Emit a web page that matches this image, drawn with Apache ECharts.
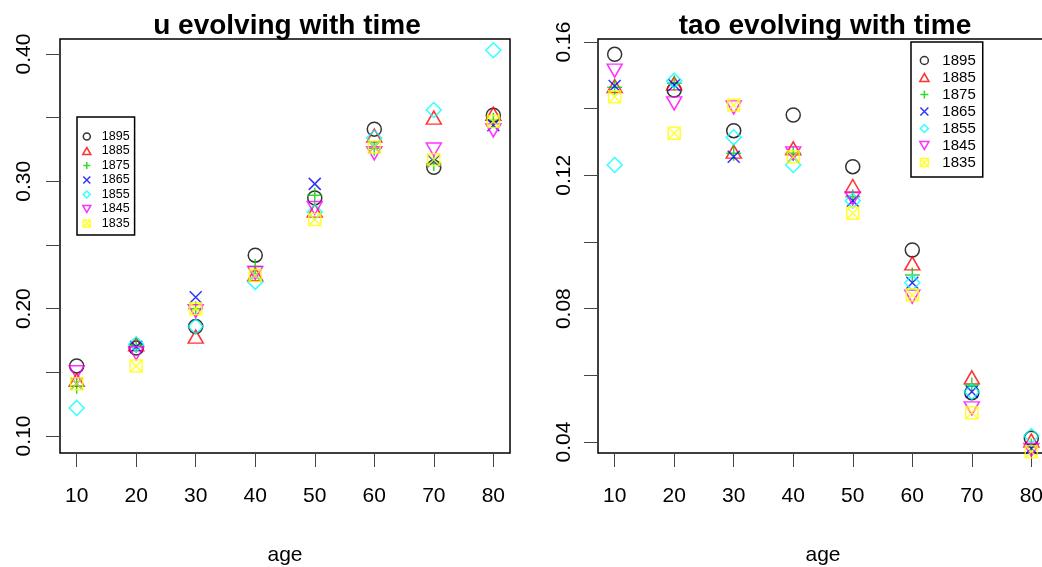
<!DOCTYPE html>
<html><head><meta charset="utf-8">
<script src="https://cdn.jsdelivr.net/npm/echarts@6/dist/echarts.min.js"></script>
<style>html,body{margin:0;padding:0;background:#fff}#c{width:1042px;height:567px}</style>
</head><body><div id="c"></div>
<script>
// ---- data ----
const ages = [10, 20, 30, 40, 50, 60, 70, 80];
const cohorts = ['1895', '1885', '1875', '1865', '1855', '1845', '1835'];

const u1895 = [0.155, 0.169, 0.186, 0.242, 0.287, 0.341, 0.311, 0.352];
const u1885 = [0.144, 0.172, 0.178, 0.227, 0.277, 0.336, 0.350, 0.353];
const u1875 = [0.139, 0.171, 0.200, 0.233, 0.289, 0.326, 0.314, 0.348];
const u1865 = [0.141, 0.170, 0.209, 0.226, 0.298, 0.327, 0.316, 0.344];
const u1855 = [0.122, 0.172, 0.186, 0.221, 0.276, 0.334, 0.356, 0.403];
const u1845 = [0.150, 0.165, 0.198, 0.228, 0.279, 0.322, 0.325, 0.340];
const u1835 = [0.141, 0.155, 0.200, 0.226, 0.270, 0.327, 0.317, 0.347];

const tao1895 = [0.1563, 0.1456, 0.1334, 0.1381, 0.1226, 0.0976, 0.0548, 0.0411];
const tao1885 = [0.1468, 0.1476, 0.1271, 0.1281, 0.1168, 0.0936, 0.0594, 0.0404];
const tao1875 = [0.1464, 0.1476, 0.1266, 0.1266, 0.1136, 0.0901, 0.0571, 0.0388];
const tao1865 = [0.1468, 0.1471, 0.1256, 0.1256, 0.1124, 0.0878, 0.0551, 0.0381];
const tao1855 = [0.1231, 0.1484, 0.1314, 0.1231, 0.1124, 0.0878, 0.0551, 0.0418];
const tao1845 = [0.1514, 0.1416, 0.1404, 0.1266, 0.1131, 0.0836, 0.0501, 0.0376];
const tao1835 = [0.1436, 0.1326, 0.1411, 0.1256, 0.1086, 0.0841, 0.0488, 0.0371];

const xTicks = [10, 20, 30, 40, 50, 60, 70, 80];
const uTicks = [0.10, 0.15, 0.20, 0.25, 0.30, 0.35, 0.40];
const uLabels = [0.10, 0.20, 0.30, 0.40];
const taoTicks = [0.04, 0.06, 0.08, 0.10, 0.12, 0.14, 0.16];
const taoLabels = [0.04, 0.08, 0.12, 0.16];

const uSeries = [u1895, u1885, u1875, u1865, u1855, u1845, u1835];
const taoSeries = [tao1895, tao1885, tao1875, tao1865, tao1855, tao1845, tao1835];

// ---- styles ----
const colors = ['#000000', '#FF0000', '#00CD00', '#0000FF', '#00FFFF', '#FF00FF', '#FFFF00'];
const symbols = [
  'circle',
  'path://M5,0L10,8.66L0,8.66Z',
  'path://M5,0L5,10M0,5L10,5',
  'path://M0,0L10,10M10,0L0,10',
  'path://M5,0L10,5L5,10L0,5Z',
  'path://M0,0L10,0L5,8.66Z',
  'path://M0,0L10,0L10,10L0,10ZM0,0L10,10M10,0L0,10'
];
const sizes = [14, [15, 13], 15, 12, 15, [15, 13], 12];
const FONT = "'Liberation Sans', Arial, Helvetica, sans-serif";

function makeX(gi) {
  return {
    type: 'value', gridIndex: gi, min: 7.2, max: 82.8,
    name: 'age', nameLocation: 'middle', nameGap: 92,
    nameTextStyle: { fontFamily: FONT, fontSize: 21, color: '#000' },
    axisLine: { show: false },
    splitLine: { show: false },
    axisTick: { show: true, inside: false, length: 14, customValues: xTicks, lineStyle: { color: '#444', width: 1 } },
    axisLabel: { customValues: xTicks, margin: 33, fontFamily: FONT, fontSize: 21, color: '#000' }
  };
}
function makeY(gi, min, max, ticks, labels, margin) {
  return {
    type: 'value', gridIndex: gi, min: min, max: max,
    axisLine: { show: false },
    splitLine: { show: false },
    axisTick: { show: true, inside: false, length: 14, customValues: ticks, lineStyle: { color: '#444', width: 1 } },
    axisLabel: { customValues: labels, rotate: 90, margin: margin, fontFamily: FONT, fontSize: 21, color: '#000',
      formatter: v => v.toFixed(2) }
  };
}

const series = [];
cohorts.forEach((name, i) => {
  [uSeries[i], taoSeries[i]].forEach((vals, gi) => {
    series.push({
      type: 'scatter', name: name, xAxisIndex: gi, yAxisIndex: gi,
      symbol: symbols[i], symbolSize: sizes[i],
      itemStyle: { color: 'rgba(0,0,0,0)', borderColor: colors[i], borderWidth: 1.5 },
      emphasis: { disabled: true },
      data: ages.map((a, k) => [a, vals[k]])
    });
  });
});

function makeLegend(left, top, pad, iw, ih, gap, fs) {
  return {
    orient: 'vertical', left: left, top: top, padding: pad,
    itemWidth: iw, itemHeight: ih, itemGap: gap,
    borderColor: '#000', borderWidth: 1.5, backgroundColor: '#fff',
    selectedMode: false,
    itemStyle: { borderWidth: 1.5 },
    textStyle: { fontFamily: FONT, fontSize: fs, color: '#000' },
    data: cohorts.map((n, i) => ({ name: n, icon: symbols[i] }))
  };
}

const option = {
  animation: false,
  backgroundColor: '#fff',
  title: [
    { text: 'u evolving with time', left: 287, top: 12, padding: 0, textAlign: 'center', textVerticalAlign: 'top',
      textStyle: { fontFamily: FONT, fontWeight: 'bold', fontSize: 28, color: '#000' } },
    { text: 'tao evolving with time', left: 825, top: 12, padding: 0, textAlign: 'center', textVerticalAlign: 'top',
      textStyle: { fontFamily: FONT, fontWeight: 'bold', fontSize: 28, color: '#000' } }
  ],
  grid: [
    { left: 60, top: 39, width: 450, height: 414, show: true, borderColor: '#000', borderWidth: 1.5,
      backgroundColor: 'transparent', containLabel: false, outerBoundsMode: 'none' },
    { left: 598, top: 39, width: 450, height: 414, show: true, borderColor: '#000', borderWidth: 1.5,
      backgroundColor: 'transparent', containLabel: false, outerBoundsMode: 'none' }
  ],
  xAxis: [makeX(0), makeX(1)],
  yAxis: [
    makeY(0, 0.0866, 0.4118, uTicks, uLabels, 25),
    makeY(1, 0.0367, 0.1609, taoTicks, taoLabels, 23)
  ],
  legend: [
    makeLegend(77, 117, [13, 5, 5, 5], 20, 7, 1.5, 12.5),
    makeLegend(911, 42, [11, 7, 7, 8], 26, 8, 2, 15)
  ],
  series: series
};

const chart = echarts.init(document.getElementById('c'), null, { renderer: 'canvas' });
chart.setOption(option);
</script>
</body></html>
